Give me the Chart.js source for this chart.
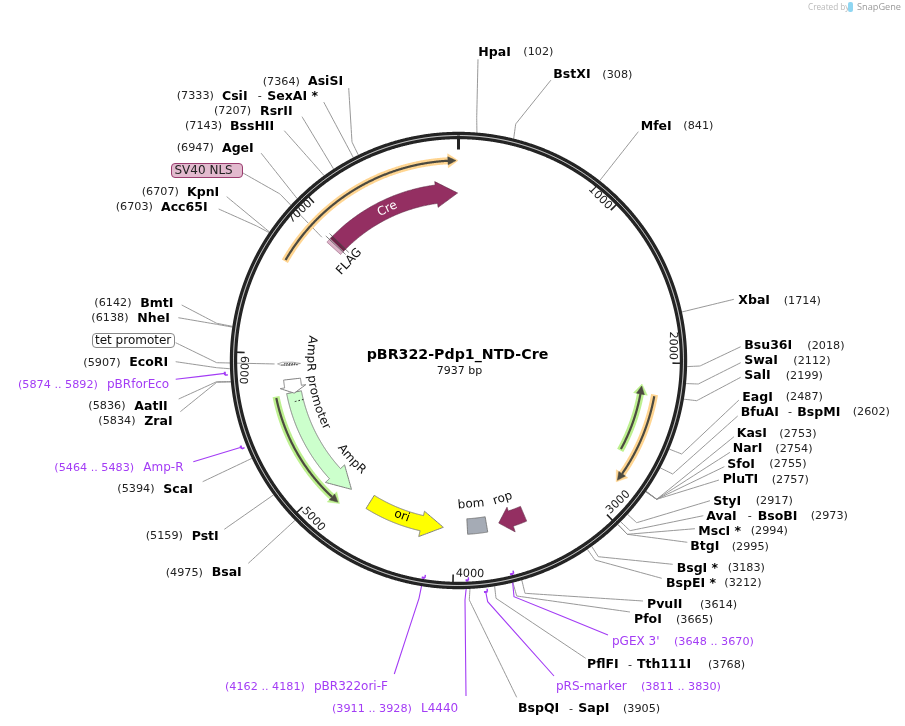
<!DOCTYPE html>
<html>
<head>
<meta charset="utf-8">
<title>pBR322-Pdp1_NTD-Cre</title>
<script src="https://cdn.jsdelivr.net/npm/chart.js@4"></script>
<style>
  html, body { margin: 0; padding: 0; background: #fff; }
  canvas { display: block; }
</style>
</head>
<body>
<canvas id="plasmidMap" width="905" height="726"></canvas>
<script>
const plasmidName = 'pBR322-Pdp1_NTD-Cre';
const plasmidLength = 7937;

// enzyme sites
const siteNames = ['HpaI', 'BstXI', 'MfeI', 'XbaI', 'Bsu36I', 'SwaI', 'SalI', 'EagI', 'BfuAI', 'KasI', 'NarI', 'SfoI', 'PluTI', 'StyI', 'AvaI', 'MscI *', 'BtgI', 'BsgI *', 'BspEI *', 'PvuII', 'PfoI', 'PflFI', 'BspQI', 'BsaI', 'PstI', 'ScaI', 'ZraI', 'AatII', 'EcoRI', 'NheI', 'BmtI', 'Acc65I', 'KpnI', 'AgeI', 'BssHII', 'RsrII', 'CsiI', 'AsiSI'];
const sitePartners = { BfuAI: 'BspMI', AvaI: 'BsoBI', PflFI: 'Tth111I', BspQI: 'SapI', CsiI: 'SexAI *' };
const sitePositions = [102, 308, 841, 1714, 2018, 2112, 2199, 2487, 2602, 2753, 2754, 2755, 2757, 2917, 2973, 2994, 2995, 3183, 3212, 3614, 3665, 3768, 3905, 4975, 5159, 5394, 5834, 5836, 5907, 6138, 6142, 6703, 6707, 6947, 7143, 7207, 7333, 7364];

// primers
const primerNames = ["pGEX 3'", 'pRS-marker', 'L4440', 'pBR322ori-F', 'Amp-R', 'pBRforEco'];
const primerStarts = [3648, 3811, 3911, 4162, 5464, 5874];
const primerEnds = [3670, 3830, 3928, 4181, 5483, 5892];

// features: tail is the blunt end, head the arrow tip, neck where the head starts
const featureNames = ['Cre', 'AmpR', 'ori', 'rop', 'AmpR promoter'];
const featureTails = [6935, 5712, 4674, 3461, 5812];
const featureHeads = [7930, 4844, 4083, 3662, 5705];
const featureNecks = [7770, 5016, 4249, 3565, 5755];

// translated frames
const orfTails = [6618, 5696, 2615, 2212];
const orfHeads = [7921, 4859, 2159, 2800];
const tickValues = [1000, 2000, 3000, 4000, 5000, 6000, 7000];

// ---- layout (page pixels) ----
const cx = 458.5, cy = 360.5;
const SITE_R = 228.5;
const PRIMER_R = [220, 233, 220, 220, 234, 234];
const ORF_R = [200, 186, 185, 199];
const ORF_COL = ['#ffd591', '#bdf08f', '#bdf08f', '#ffd591'];
const FEATURE_COL = ['#942f62', '#ccffcc', '#ffff00', '#942f62', '#ffffff'];
const FEATURE_EDGE = ['#5e2a45', '#808080', '#808080', '#5e2a45', '#808080'];
const FEATURE_INNER = [158.5, 160, 159, 158.5, 159];
const FEATURE_OUTER = [177, 175, 174.5, 174.5, 176];
const PURPLE = '#a33cf5';

// nameX, posX, y, elbows (from label end towards the ring), dashX, partnerX
const siteLayout = [
  [478.3, 523.3, 51.7, [[478, 59.3], [476.7, 118]]],
  [553.3, 602.3, 74, [[551, 80], [515.7, 124]]],
  [640.7, 683.3, 125.7, [[638.3, 131.7]]],
  [738.3, 783.7, 300, [[734, 299.3]]],
  [744.3, 807.3, 345, [[740.7, 346.7], [700, 366]]],
  [744.3, 793.3, 360, [[740.7, 362.7], [698.3, 384]]],
  [744.3, 785.7, 375, [[740.7, 377.3], [696.7, 400.7]]],
  [742.3, 785.7, 396.7, [[739, 400], [681.7, 454]]],
  [740.7, 852.7, 411.7, [[737.7, 416], [672.7, 474]], 788, 797.3],
  [736.7, 779.3, 433.3, [[734, 436.7], [656.7, 499.3]]],
  [732.7, 775.3, 448.3, [[730, 452.3], [656.7, 499.3]]],
  [727.3, 769.3, 463.7, [[724.3, 466.7], [656.7, 499.3]]],
  [722.7, 771.7, 479, [[719, 480], [656.7, 499.3]]],
  [713.3, 755.7, 500.7, [[710, 500.7], [636.7, 522.7]]],
  [706.3, 810.7, 515.7, [[703.3, 515.7], [630, 530.7]], 747.7, 757.7],
  [698.3, 750.7, 530.7, [[695, 528.7], [627.3, 534.3]]],
  [690.3, 731.7, 546, [[687.3, 542.3], [627.3, 534.3]]],
  [676.7, 727.7, 567.7, [[672.7, 564.3], [598.3, 556.7]]],
  [666, 724.3, 582.7, [[661.7, 578.3], [595, 560]]],
  [647, 700, 604, [[643, 601], [525, 593.3]]],
  [634, 676, 619, [[630, 612], [516.7, 596]]],
  [587, 708, 664, [[585.7, 658.3], [496, 598.3]], 628, 637],
  [518, 623, 708, [[516.7, 697.3], [469.3, 600]], 569, 578.3],
  [211.7, 165.7, 572, [[248.3, 563.3]]],
  [191.7, 145.7, 535.7, [[224.3, 529.3]]],
  [163.3, 117.3, 488.7, [[202.7, 481.7]]],
  [144.3, 98.3, 420.7, [[180.3, 411.7], [216.7, 382.3]]],
  [134.3, 88.3, 405.7, [[178.7, 399], [216.7, 381.7]]],
  [129.3, 83.3, 362, [[175.7, 361.7], [216.7, 367.7]]],
  [137.3, 91.3, 317.7, [[178.3, 317.7], [216.7, 324.3]]],
  [140.3, 94.3, 302.7, [[181.7, 305], [216.7, 323.3]]],
  [161, 115.7, 206.7, [[218.7, 209], [256.7, 226]]],
  [187, 141.7, 191.7, [[226.7, 196.7]]],
  [222, 176.7, 147.7, [[261, 153]]],
  [230, 185, 125.7, [[284.3, 130.7], [313, 163]]],
  [260, 214, 110.7, [[302, 116.7]]],
  [222, 176.7, 95.7, [[323.7, 102]], 257.7, 267.3],
  [308, 262.7, 81, [[348.7, 88], [352, 142]]]
];
// nameX, rangeX, y, elbows
const primerLayout = [
  [612, 674, 641, [[608, 635], [514, 596.7]]],
  [556, 641, 686, [[554, 676], [487.7, 601.7]]],
  [421, 332, 708, [[466, 696], [465, 600]]],
  [314, 225, 686, [[394.3, 674], [419, 598.3]]],
  [143.3, 54.3, 467, [[193.3, 461.7]]],
  [107, 18, 384, [[175.7, 379.3]]]
];
// rotated tick label centres
const tickLabelXY = [[600, 197.7], [672.7, 345.7], [618.3, 502.3], [470, 574], [313.3, 519.3], [243.3, 370], [300, 211.7]];

const POS_FONT = '11.2px "DejaVu Sans"';
const NAME_FONT = 'bold 12.5px "DejaVu Sans"';
const LABEL_FONT = '12px "DejaVu Sans"';

function pt(bp, r) {
  const a = bp / plasmidLength * Math.PI * 2;
  return { x: cx + r * Math.sin(a), y: cy - r * Math.cos(a) };
}
function arc(from, to, r) {
  const n = Math.max(2, Math.ceil(Math.abs(to - from) / 8));
  const out = [];
  for (let i = 0; i <= n; i++) out.push(pt(from + (to - from) * i / n, r));
  return out;
}
const pxToBp = (px, r) => px / r * plasmidLength / (Math.PI * 2);
const deg = bp => bp / plasmidLength * 360;

const datasets = [];
function line(data, color, width, extra) {
  // tiny tension keeps chart.js off its fast path, which merges points per pixel column
  datasets.push(Object.assign({
    data: data, showLine: true, borderColor: color, borderWidth: width,
    pointRadius: 0, tension: 0.001, fill: false, borderCapStyle: 'butt', borderJoinStyle: 'miter', clip: false
  }, extra || {}));
}
function shape(data, fillCol, edge, width) {
  data = data.concat([data[0]]);
  line(data, edge, width, { fill: 'shape', backgroundColor: fillCol });
}

// leader lines first, everything else goes on top of them
sitePositions.forEach((bp, i) => {
  const l = siteLayout[i];
  line(l[3].map(p => ({ x: p[0], y: p[1] })).concat([pt(bp, SITE_R)]), '#8c8c8c', 0.9);
});
primerStarts.forEach((s, i) => {
  const l = primerLayout[i];
  line(l[3].map(p => ({ x: p[0], y: p[1] })).concat([pt((s + primerEnds[i]) / 2, PRIMER_R[i])]), PURPLE, 1.1);
});
// feature call-outs
line([{ x: 243, y: 173 }, { x: 280, y: 194 }, pt(6880, 184)], '#8c8c8c', 0.9);
line([{ x: 175.7, y: 342.7 }, { x: 216.7, y: 362.7 }, pt(5929, 184)], '#8c8c8c', 0.9);

// backbone
line(arc(0, plasmidLength, 225), '#242424', 7.4);
line(arc(0, plasmidLength, 225), '#ffffff', 0.9);
line([pt(0, 211), pt(0, 225)], '#242424', 3);
tickValues.forEach(v => line([pt(v, 214), pt(v, 222)], '#242424', 1.6));

// primers
primerStarts.forEach((s, i) => {
  const r = PRIMER_R[i];
  line(arc(s, primerEnds[i], r), PURPLE, 2);
  line([pt(s, r), pt(s, r - 3)], PURPLE, 1.4);
});

// translated frames: halo, then dark core
orfTails.forEach((tail, i) => {
  const head = orfHeads[i], r = ORF_R[i], dir = Math.sign(head - tail);
  const back = pxToBp(8, r) * dir, neck = head - back;
  line(arc(tail - dir * pxToBp(1.5, r), neck, r), ORF_COL[i], 7);
  shape([pt(neck, r - 7), pt(head + dir * pxToBp(2, r), r), pt(neck, r + 7)], ORF_COL[i], ORF_COL[i], 0.5);
  line(arc(tail, neck, r), '#4c4a40', 2.2);
  shape([pt(neck, r - 4), pt(head, r), pt(neck, r + 4)], '#4c4a40', '#4c4a40', 0.5);
});

// directional features
featureTails.forEach((tail, i) => {
  const head = featureHeads[i], neck = featureNecks[i];
  shape(
    arc(tail, neck, FEATURE_OUTER[i])
      .concat([pt(neck, 180.5), pt(head, 167.5), pt(neck, 154.5)])
      .concat(arc(neck, tail, FEATURE_INNER[i])),
    FEATURE_COL[i], FEATURE_EDGE[i], i === 0 || i === 3 ? 0.6 : 1
  );
});

// bom (no direction)
shape(arc(3755, 3902, 174).concat(arc(3902, 3755, 158.5)), '#a5abb5', '#6c6c6c', 0.8);

// FLAG and SV40 NLS at the tail of Cre
shape(arc(6935, 6912, 177).concat(arc(6912, 6935, 158.5)), '#6e2347', '#5e2a45', 0.6);
shape(arc(6912, 6878, 177).concat(arc(6878, 6912, 158.5)), '#dcb3c8', '#9a6a85', 0.6);
line([pt(6935, 154), pt(6935, 181)], '#444', 0.7);
line([pt(6905, 155), pt(6905, 182)], '#444', 0.7);

// tet promoter sliver
shape([pt(5929, 158), pt(5918, 168), pt(5920, 178), pt(5929, 181), pt(5940, 176), pt(5940, 166)], '#ffffff', '#777', 0.6);
line([pt(5920, 161), pt(5920, 177)], '#333', 1.1, { borderDash: [1.5, 1] });
line([pt(5931, 163), pt(5931, 175)], '#555', 1, { borderDash: [1.5, 1] });
// dotted line across the AmpR tail
line([pt(5642, 160), pt(5642, 169)], '#222', 1, { borderDash: [1.5, 2] });

const textPlugin = {
  id: 'mapText',
  afterDatasetsDraw(chart) {
    const ctx = chart.ctx, X = chart.scales.x, Y = chart.scales.y;
    function text(str, x, y, font, color, rot, align) {
      ctx.save();
      ctx.translate(X.getPixelForValue(x), Y.getPixelForValue(y) + (rot ? 0 : 0.7));
      if (rot) ctx.rotate(rot * Math.PI / 180);
      ctx.font = font;
      ctx.fillStyle = color;
      ctx.textBaseline = 'middle';
      ctx.textAlign = align || 'left';
      ctx.fillText(str, 0, 0);
      ctx.restore();
    }
    function radial(str, bp, r, font, color) {
      const p = pt(bp, r);
      let rot = deg(bp);
      while (rot > 95) rot -= 180;
      text(str, p.x, p.y, font, color, rot, 'center');
    }
    // text following the inside of the circle, reading with the tops towards the centre
    function curved(str, startDeg, r, font, color) {
      ctx.font = font;
      let a = startDeg;
      for (const ch of str) {
        const w = ctx.measureText(ch).width, mid = a - (w / 2) / r * 180 / Math.PI;
        const p = pt(mid / 360 * plasmidLength, r);
        text(ch, p.x, p.y, font, color, mid - 180, 'center');
        a -= w / r * 180 / Math.PI;
      }
    }
    function box(x0, y0, x1, y1, fillCol, edge) {
      ctx.save();
      ctx.beginPath();
      ctx.roundRect(X.getPixelForValue(x0), Y.getPixelForValue(y0), x1 - x0, y1 - y0, 3.5);
      ctx.fillStyle = fillCol;
      ctx.fill();
      ctx.lineWidth = 1;
      ctx.strokeStyle = edge;
      ctx.stroke();
      ctx.restore();
    }

    siteNames.forEach((name, i) => {
      const l = siteLayout[i];
      text(name, l[0], l[2], NAME_FONT, '#000');
      text('(' + sitePositions[i] + ')', l[1], l[2], POS_FONT, '#222');
      if (sitePartners[name]) {
        text('-', l[4], l[2], POS_FONT, '#222');
        text(sitePartners[name], l[5], l[2], NAME_FONT, '#000');
      }
    });
    primerNames.forEach((name, i) => {
      const l = primerLayout[i];
      text(name, l[0], l[2], LABEL_FONT, PURPLE);
      text('(' + primerStarts[i] + ' .. ' + primerEnds[i] + ')', l[1], l[2], POS_FONT, PURPLE);
    });
    tickValues.forEach((v, i) => {
      let rot = deg(v);
      while (rot > 95) rot -= 180;
      text(String(v), tickLabelXY[i][0], tickLabelXY[i][1], POS_FONT, '#222', rot, 'center');
    });

    box(171.5, 163.5, 242.5, 177.5, '#e2bace', '#9a3c6e');
    text('SV40 NLS', 174.5, 170, LABEL_FONT, '#222');
    box(92.5, 333.5, 174.5, 347.5, '#ffffff', '#888888');
    text('tet promoter', 95, 340, LABEL_FONT, '#111');

    radial(featureNames[0], 7382, 167.4, LABEL_FONT, '#ffffff');
    text('FLAG', 349.3, 261.7, LABEL_FONT, '#111', -47, 'center');
    curved(featureNames[4], 279.6, 148, LABEL_FONT, '#111');
    curved(featureNames[1], 234.3, 146, LABEL_FONT, '#111');
    radial(featureNames[2], 4410, 165.5, LABEL_FONT, '#000');
    radial('bom', 3858, 144.3, LABEL_FONT, '#111');
    radial(featureNames[3], 3577, 144.9, LABEL_FONT, '#111');

    text(plasmidName, 366.7, 355, 'bold 14.2px "DejaVu Sans"', '#000');
    text(plasmidLength + ' bp', 436.7, 370, '11px "DejaVu Sans"', '#111');

    // SnapGene mark
    text('Created by', 808, 7, '8.2px "Open Sans"', '#b9b9b9');
    text('SnapGene', 857, 7, '9.2px "Open Sans"', '#9a9a9a');
    ctx.save();
    ctx.fillStyle = '#8fd6f2';
    ctx.beginPath();
    ctx.roundRect(X.getPixelForValue(848), Y.getPixelForValue(2), 5, 10, 2);
    ctx.fill();
    ctx.restore();
  }
};

new Chart(document.getElementById('plasmidMap').getContext('2d'), {
  type: 'scatter',
  data: { datasets: datasets.reverse() }, // chart.js paints the first dataset last
  options: {
    responsive: false,
    animation: false,
    events: [],
    layout: { padding: 0 },
    plugins: { legend: { display: false }, tooltip: { enabled: false }, title: { display: false } },
    scales: {
      x: { type: 'linear', display: false, min: 0, max: 905 },
      y: { type: 'linear', display: false, min: 0, max: 726, reverse: true }
    }
  },
  plugins: [textPlugin]
});
</script>
</body>
</html>
